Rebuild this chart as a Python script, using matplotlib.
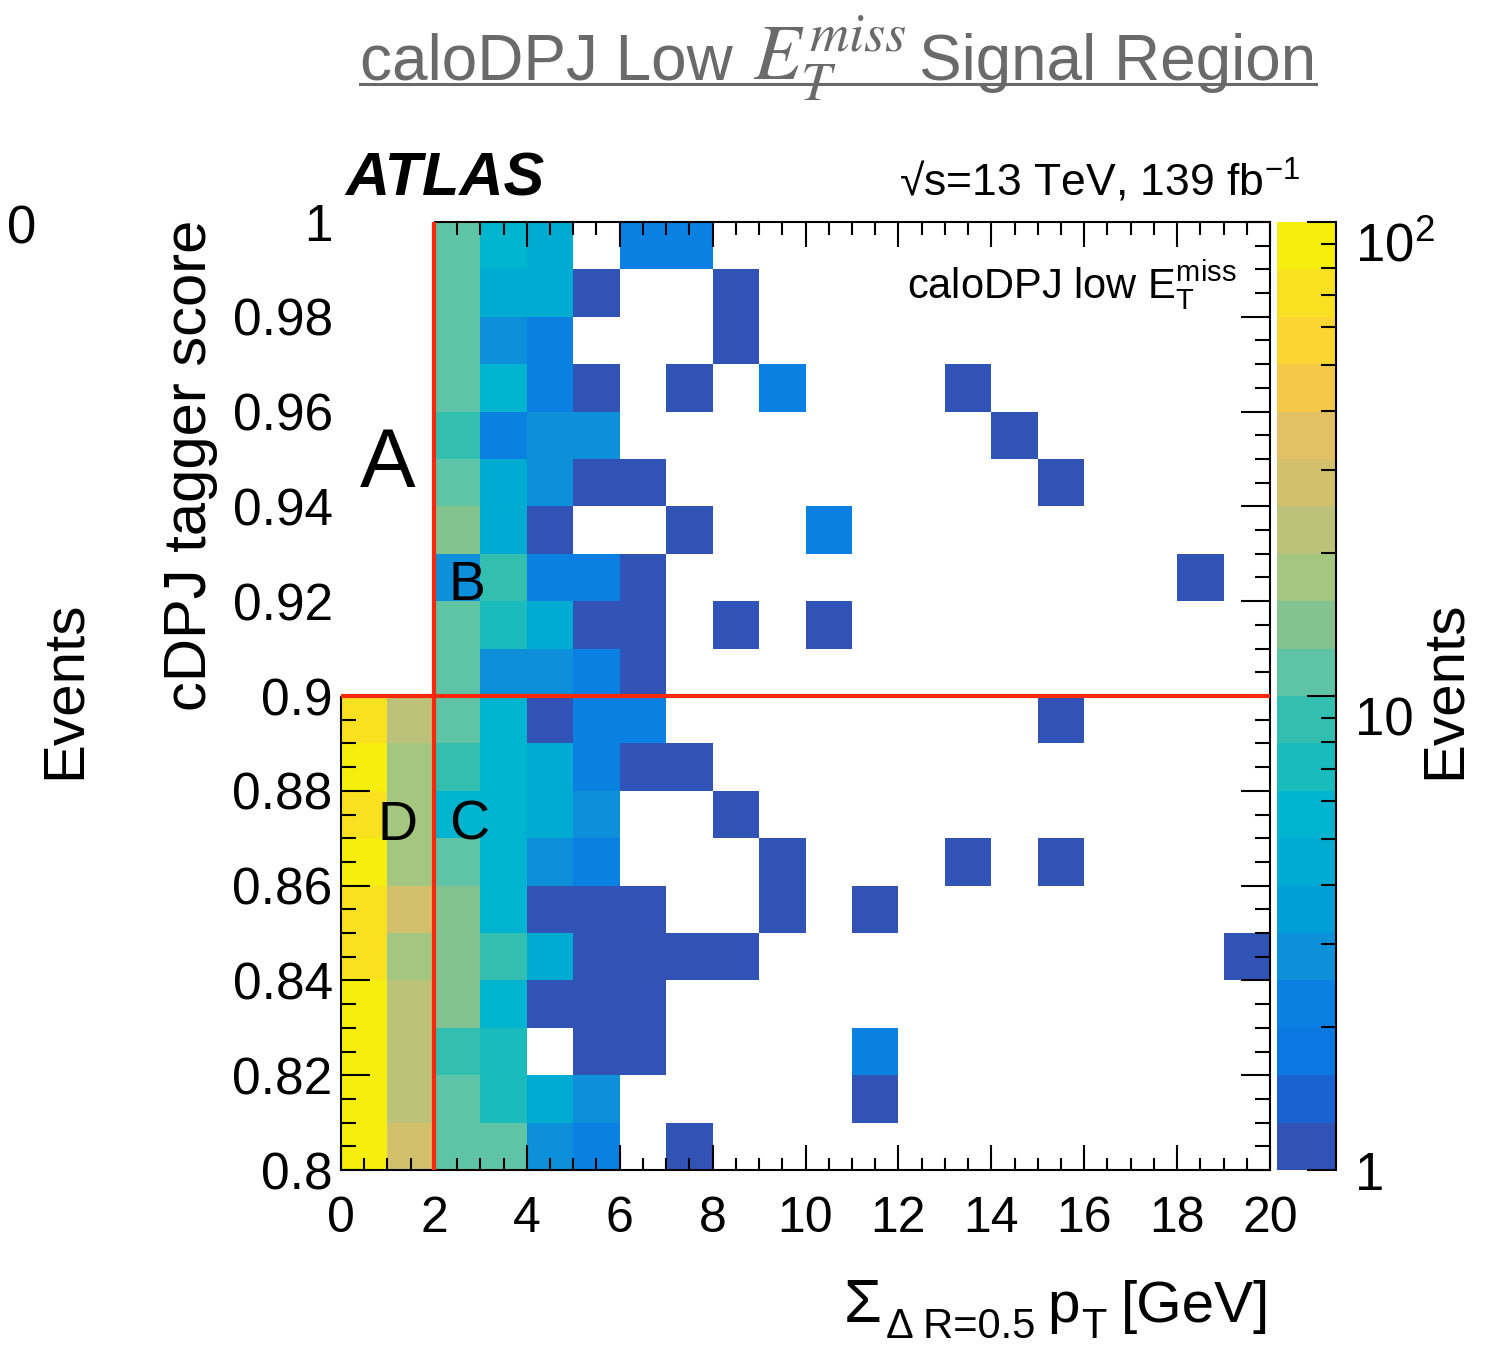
import numpy as np
import matplotlib
matplotlib.use("Agg")
import matplotlib.pyplot as plt
from matplotlib.colors import ListedColormap, LogNorm
from matplotlib.patches import Rectangle
from matplotlib.lines import Line2D
from matplotlib.ticker import FixedLocator

plt.rcParams["font.family"] = ["Liberation Sans", "DejaVu Sans"]
plt.rcParams["mathtext.fontset"] = "custom"
plt.rcParams["mathtext.rm"] = "Liberation Sans"
plt.rcParams["mathtext.it"] = "Liberation Sans:italic"
plt.rcParams["mathtext.bf"] = "Liberation Sans:bold"
plt.rcParams["mathtext.sf"] = "Liberation Sans"

# ---------------- data ----------------
# binning: sum pT within dR<0.5 (GeV) and cDPJ tagger score
x_edges = np.linspace(0.0, 20.0, 21)
y_edges = np.linspace(0.8, 1.0, 21)

# event counts, one row per tagger-score bin (0.80-0.81 first), 20 pT bins each
counts = [
    [90, 28, 11, 11, 3, 2, 0, 1, 0, 0, 0, 0, 0, 0, 0, 0, 0, 0, 0, 0],
    [90, 23, 11, 7, 5, 3, 0, 0, 0, 0, 0, 1, 0, 0, 0, 0, 0, 0, 0, 0],
    [90, 23, 9, 7, 0, 1, 1, 0, 0, 0, 0, 2, 0, 0, 0, 0, 0, 0, 0, 0],
    [90, 23, 14, 6, 1, 1, 1, 0, 0, 0, 0, 0, 0, 0, 0, 0, 0, 0, 0, 0],
    [70, 18, 14, 9, 4, 1, 1, 1, 1, 0, 0, 0, 0, 0, 0, 0, 0, 0, 0, 1],
    [70, 28, 14, 6, 1, 1, 1, 0, 0, 1, 0, 1, 0, 0, 0, 0, 0, 0, 0, 0],
    [90, 18, 11, 6, 3, 2, 0, 0, 0, 1, 0, 0, 0, 1, 0, 1, 0, 0, 0, 0],
    [70, 18, 6, 6, 5, 3, 0, 0, 1, 0, 0, 0, 0, 0, 0, 0, 0, 0, 0, 0],
    [90, 18, 9, 6, 4, 2, 1, 1, 0, 0, 0, 0, 0, 0, 0, 0, 0, 0, 0, 0],
    [70, 23, 11, 6, 1, 2, 2, 0, 0, 0, 0, 0, 0, 0, 0, 1, 0, 0, 0, 0],
    [0, 0, 11, 3, 3, 2, 1, 0, 0, 0, 0, 0, 0, 0, 0, 0, 0, 0, 0, 0],
    [0, 0, 11, 7, 5, 1, 1, 0, 1, 0, 1, 0, 0, 0, 0, 0, 0, 0, 0, 0],
    [0, 0, 3, 9, 2, 2, 1, 0, 0, 0, 0, 0, 0, 0, 0, 0, 0, 0, 1, 0],
    [0, 0, 14, 4, 1, 0, 0, 1, 0, 0, 2, 0, 0, 0, 0, 0, 0, 0, 0, 0],
    [0, 0, 11, 5, 3, 1, 1, 0, 0, 0, 0, 0, 0, 0, 0, 1, 0, 0, 0, 0],
    [0, 0, 9, 2, 3, 3, 0, 0, 0, 0, 0, 0, 0, 0, 1, 0, 0, 0, 0, 0],
    [0, 0, 11, 6, 2, 1, 0, 1, 0, 2, 0, 0, 0, 1, 0, 0, 0, 0, 0, 0],
    [0, 0, 11, 3, 2, 0, 0, 0, 1, 0, 0, 0, 0, 0, 0, 0, 0, 0, 0, 0],
    [0, 0, 11, 5, 5, 1, 0, 0, 1, 0, 0, 0, 0, 0, 0, 0, 0, 0, 0, 0],
    [0, 0, 11, 6, 4, 0, 2, 2, 0, 0, 0, 0, 0, 0, 0, 0, 0, 0, 0, 0],
]

# ABCD region boundaries
x_cut = 2.0
y_cut = 0.9

x_ticks = [0, 2, 4, 6, 8, 10, 12, 14, 16, 18, 20]
x_tick_labels = ["0", "2", "4", "6", "8", "10", "12", "14", "16", "18", "20"]
y_ticks = [0.8, 0.82, 0.84, 0.86, 0.88, 0.9, 0.92, 0.94, 0.96, 0.98, 1.0]
y_tick_labels = ["0.8", "0.82", "0.84", "0.86", "0.88", "0.9",
                 "0.92", "0.94", "0.96", "0.98", "1"]
z_ticks = [1, 10, 100]
z_tick_labels = ["1", "10", r"$\mathregular{10^{2}}$"]
z_minor_ticks = [2, 3, 4, 5, 6, 7, 8, 9, 20, 30, 40, 50, 60, 70, 80, 90]

# 20-level bird palette, log-spaced between 1 and 100
band_colors = [
    "#3053b5", "#1a62d2", "#0a78e0", "#0a80e2", "#0d8fd9",
    "#009fd5", "#00abd1", "#00b4cf", "#1abbbd", "#33bfb0",
    "#5fc4a6", "#84c390", "#a3c780", "#bdc27a", "#d3c06a",
    "#e3c064", "#f4c94a", "#fbd531", "#f9e122", "#f6ef0e",
]

# ---------------- figure ----------------
W_PX, H_PX = 1507, 1346
fig = plt.figure(figsize=(W_PX / 100, H_PX / 100), dpi=100)
renderer = fig.canvas.get_renderer()


def fx(px):
    return px / W_PX


def fy(py):
    return 1.0 - py / H_PX


ax_l, ax_r, ax_t, ax_b = 341, 1270, 222, 1170
ax = fig.add_axes([fx(ax_l), fy(ax_b), fx(ax_r - ax_l), (ax_b - ax_t) / H_PX])

z = np.ma.masked_less_equal(np.array(counts, dtype=float), 0)
cmap = ListedColormap(band_colors)
norm = LogNorm(vmin=1, vmax=100)
mesh = ax.pcolormesh(x_edges, y_edges, z, cmap=cmap, norm=norm,
                     shading="flat", antialiased=False, linewidth=0)

ax.set_xlim(x_edges[0], x_edges[-1])
ax.set_ylim(y_edges[0], y_edges[-1])
ax.set_xticks(x_ticks, x_tick_labels)
ax.set_yticks(y_ticks, y_tick_labels)
ax.xaxis.set_minor_locator(FixedLocator(np.arange(0, 20.01, 0.5)))
ax.yaxis.set_minor_locator(FixedLocator(np.arange(0.8, 1.0001, 0.005)))
ax.tick_params(which="both", direction="in", top=True, right=True, width=1.5)
ax.tick_params(axis="x", which="major", length=18, pad=19, labelsize=36)
ax.tick_params(axis="x", which="minor", length=9)
ax.tick_params(axis="y", which="major", length=21, pad=6, labelsize=37)
ax.tick_params(axis="y", which="minor", length=11)
for sp in ax.spines.values():
    sp.set_linewidth(1.5)

# region boundaries
red = "#f8280a"
ax.plot([x_cut, x_cut], [y_edges[0], y_edges[-1]], color=red, lw=3,
        zorder=5, clip_on=False, solid_capstyle="butt")
ax.plot([x_edges[0], x_edges[-1]], [y_cut, y_cut], color=red, lw=3,
        zorder=5, clip_on=False, solid_capstyle="butt")
# upper-left corner is outside the selection: blank it including frame
ax.add_patch(Rectangle((-0.11, y_cut), x_cut + 0.11, (y_edges[-1] - y_cut) + 0.0025,
                       facecolor="white", edgecolor="none", zorder=3,
                       clip_on=False))

# ---------------- colour bar ----------------
cb_l, cb_r = 1277, 1336
cax = fig.add_axes([fx(cb_l), fy(ax_b), fx(cb_r - cb_l), (ax_b - ax_t) / H_PX])
cb = fig.colorbar(mesh, cax=cax)
cb.outline.set_visible(False)
cax.spines["right"].set_visible(True)
cax.spines["right"].set_linewidth(1.5)
cb.set_ticks(z_ticks, labels=z_tick_labels)
cax.yaxis.set_minor_locator(FixedLocator(z_minor_ticks))
cax.tick_params(axis="y", which="both", direction="in", right=True, left=False,
                width=1.5)
cax.tick_params(axis="y", which="major", length=21, pad=14, labelsize=38)
cax.tick_params(axis="y", which="minor", length=11)
# upper palette labels sit just below their ticks
for tick in cax.yaxis.get_major_ticks():
    if tick.get_loc() > 5:
        tick.label2.set_verticalalignment("top")

# ---------------- labels ----------------
fig.text(fx(1445), fy(690), "Events", rotation=90, ha="center", va="center",
         fontsize=42)
fig.text(fx(65), fy(690), "Events", rotation=90, ha="center", va="center",
         fontsize=42)
fig.text(fx(22), fy(243), "0", ha="center", va="baseline", fontsize=38)
fig.text(fx(190), fy(220), "cDPJ tagger score", rotation=90, ha="center",
         va="top", fontsize=43)


def chain(pieces, x_right):
    """Lay out (text, fontsize, baseline_px, gap_px) pieces left to right,
    ending at x_right (pixels)."""
    objs = []
    for txt, size, base, gap in pieces:
        t = fig.text(0, fy(base), txt, fontsize=size, ha="left", va="baseline")
        objs.append((t, gap))
    widths = [t.get_window_extent(renderer).width for t, _ in objs]
    total = sum(widths) + sum(g for _, g in objs)
    x = x_right - total
    for (t, gap), w in zip(objs, widths):
        x += gap
        t.set_x(x / W_PX)
        x += w


# x-axis title: Sigma_{Delta R=0.5} p_T [GeV]
chain([("Σ", 44, 1322, 0),
       ("Δ R=0.5", 30, 1338, 4),
       ("p", 42, 1322, 12),
       ("T", 30, 1338, 2),
       ("[GeV]", 42, 1322, 14)], 1270)

fig.text(fx(345), fy(196), "ATLAS", fontweight="bold", fontstyle="italic",
         fontsize=44, va="baseline", ha="left")
fig.text(fx(1300), fy(196), "√s=13 TeV, 139 fb$^{\\mathrm{-1}}$",
         fontsize=32, va="baseline", ha="right")
fig.text(fx(1237), fy(298), r"caloDPJ low E$_{\mathrm{T}}^{\mathrm{miss}}$",
         fontsize=30, va="baseline", ha="right")

fig.text(fx(388), fy(487), "A", fontsize=60, ha="center", va="baseline")
fig.text(fx(467), fy(600), "B", fontsize=40, ha="center", va="baseline")
fig.text(fx(469), fy(840), "C", fontsize=40, ha="center", va="baseline")
fig.text(fx(398), fy(840), "D", fontsize=40, ha="center", va="baseline")

# underlined grey title with a serif math part
grey = "#6a6a6a"
base_y = fy(80)
t1 = fig.text(fx(360), base_y, "caloDPJ Low", fontsize=46, color=grey,
              ha="left", va="baseline")
x1 = t1.get_window_extent(renderer).x1
t2 = fig.text((x1 + 20) / W_PX, base_y, r"$E_{T}^{miss}$", fontsize=56,
              color=grey, ha="left", va="baseline", math_fontfamily="stix")
x2 = t2.get_window_extent(renderer).x1
t3 = fig.text((x2 + 13) / W_PX, base_y, "Signal Region", fontsize=46, color=grey,
              ha="left", va="baseline")
x3 = t3.get_window_extent(renderer).x1
fig.add_artist(Line2D([fx(360), x3 / W_PX], [fy(84), fy(84)], color=grey, lw=2.2))

fig.savefig("out.png", dpi=100)
